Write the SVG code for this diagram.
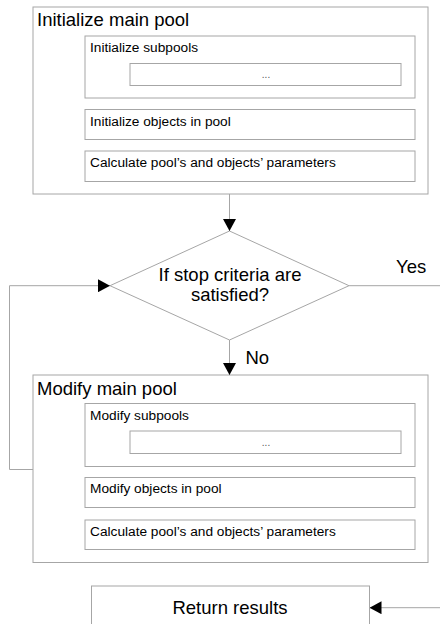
<svg xmlns="http://www.w3.org/2000/svg" width="440" height="624" viewBox="0 0 440 624">
<style>
.box{fill:#fff;stroke:#a6a6a6;stroke-width:1}
.con{fill:none;stroke:#a6a6a6;stroke-width:1}
.big{font-family:"Liberation Sans",Arial,sans-serif;font-size:18.5px;fill:#000}
.sm{font-family:"Liberation Sans",Arial,sans-serif;font-size:13.7px;fill:#000}
.dots{font-family:"Liberation Sans",Arial,sans-serif;font-size:10px;fill:#555}
</style>
<defs>
<marker id="ah" markerUnits="userSpaceOnUse" markerWidth="12" markerHeight="13" refX="12" refY="6.5" orient="auto">
<path d="M0,0 L12,6.5 L0,13 z" fill="#000"/>
</marker>
</defs>
<rect width="440" height="624" fill="#fff"/>
<g id="init-main">
<rect class="box" x="33" y="7" width="395" height="187"/>
<text class="big" x="37" y="26">Initialize main pool</text>
</g>
<g id="init-subpools">
<rect class="box" x="85" y="36" width="330" height="62"/>
<text class="sm" x="90" y="52">Initialize subpools</text>
</g>
<g id="init-sub-dots">
<rect class="box" x="130" y="63.5" width="271" height="22"/>
<text class="dots" x="266" y="78" text-anchor="middle">...</text>
</g>
<g id="init-objects">
<rect class="box" x="85" y="109.5" width="330" height="30"/>
<text class="sm" x="90" y="126">Initialize objects in pool</text>
</g>
<g id="init-calc">
<rect class="box" x="85" y="151" width="330" height="30.5"/>
<text class="sm" x="90" y="167">Calculate pool’s and objects’ parameters</text>
</g>
<g id="decision">
<polygon class="box" points="229.5,231 349,285.7 229.5,340 110,285.7"/>
<text class="big" x="230" y="281" text-anchor="middle">If stop criteria are</text>
<text class="big" x="230" y="301" text-anchor="middle">satisfied?</text>
</g>
<g id="mod-main">
<rect class="box" x="33" y="375" width="395" height="187.5"/>
<text class="big" x="37" y="394.5">Modify main pool</text>
</g>
<g id="mod-subpools">
<rect class="box" x="85" y="403.5" width="330" height="63"/>
<text class="sm" x="90" y="420">Modify subpools</text>
</g>
<g id="mod-sub-dots">
<rect class="box" x="130" y="431" width="271" height="22.5"/>
<text class="dots" x="266" y="446" text-anchor="middle">...</text>
</g>
<g id="mod-objects">
<rect class="box" x="85" y="477.5" width="330" height="30"/>
<text class="sm" x="90" y="493">Modify objects in pool</text>
</g>
<g id="mod-calc">
<rect class="box" x="85" y="520" width="330" height="29.5"/>
<text class="sm" x="90" y="536">Calculate pool’s and objects’ parameters</text>
</g>
<g id="return">
<rect class="box" x="91.5" y="586" width="278" height="50"/>
<text class="big" x="230" y="613.5" text-anchor="middle">Return results</text>
</g>
<g id="connectors">
<path class="con" d="M229.5,194 V231" marker-end="url(#ah)"/>
<path class="con" d="M229.5,340 V375" marker-end="url(#ah)"/>
<path class="con" d="M33,469.5 H9.5 V285.7 H110" marker-end="url(#ah)"/>
<path class="con" d="M349,285.7 H440"/>
<path class="con" d="M440,607.7 H369.5" marker-end="url(#ah)"/>
<text class="big" x="396" y="273">Yes</text>
<text class="big" x="245.5" y="364">No</text>
</g>
</svg>
